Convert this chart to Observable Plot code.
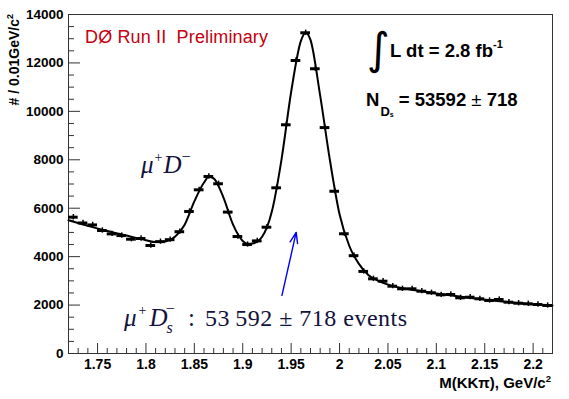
<!DOCTYPE html>
<html>
<head>
<meta charset="utf-8">
<script src="https://cdn.jsdelivr.net/npm/d3@7"></script>
<script src="https://cdn.jsdelivr.net/npm/@observablehq/plot@0.6"></script>
<style>
  html, body { margin: 0; padding: 0; background: #fff; }
  #chart svg { display: block; }
</style>
</head>
<body>
<div id="chart"></div>
<script>
// Bin centres (GeV/c^2), 0.01 GeV bins
const binCenters = [
  1.725, 1.735, 1.745, 1.755, 1.765, 1.775, 1.785, 1.795,
  1.805, 1.815, 1.825, 1.835, 1.845, 1.855, 1.865, 1.875, 1.885, 1.895,
  1.905, 1.915, 1.925, 1.935, 1.945, 1.955, 1.965, 1.975, 1.985, 1.995,
  2.005, 2.015, 2.025, 2.035, 2.045, 2.055, 2.065, 2.075, 2.085, 2.095,
  2.105, 2.115, 2.125, 2.135, 2.145, 2.155, 2.165, 2.175, 2.185, 2.195,
  2.205, 2.215
];
// Entries per bin
const counts = [
  5630, 5390, 5310, 5080, 4940, 4870, 4720, 4750,
  4460, 4620, 4700, 5030, 5865, 6760, 7310, 7010, 5840, 4830,
  4500, 4650, 5216, 6843, 9445, 12100, 13245, 11760, 9330, 6700,
  4945, 4040, 3390, 3085, 2986, 2780, 2672, 2672, 2573, 2507,
  2424, 2437, 2300, 2325, 2259, 2189, 2230, 2119, 2077, 2053,
  2024, 1982
];
const binHalfWidth = 0.005;
const errHalf = 110;

// Fit curve
const fitX = [1.72, 1.74, 1.76, 1.78, 1.80, 1.81, 1.82, 1.83, 1.84, 1.85, 1.86, 1.865, 1.87, 1.88, 1.89, 1.90, 1.905, 1.91, 1.92, 1.93, 1.94, 1.95, 1.96, 1.965, 1.97, 1.98, 1.99, 2.00, 2.01, 2.02, 2.03, 2.04, 2.06, 2.08, 2.10, 2.12, 2.14, 2.16, 2.18, 2.20, 2.22];
const fitY = [5500, 5270, 5060, 4870, 4680, 4600, 4630, 4820, 5320, 6280, 7060, 7300, 7230, 6450, 5320, 4650, 4530, 4540, 4820, 5850, 8000, 10800, 12900, 13250, 12950, 10650, 8000, 5750, 4450, 3700, 3230, 3000, 2740, 2600, 2480, 2370, 2270, 2180, 2100, 2030, 1980];

// Axis ticks
const xMajor = [1.75, 1.8, 1.85, 1.9, 1.95, 2, 2.05, 2.1, 2.15, 2.2];
const xMinor = [1.72, 1.73, 1.74, 1.76, 1.77, 1.78, 1.79, 1.81, 1.82, 1.83, 1.84, 1.86, 1.87, 1.88, 1.89, 1.91, 1.92, 1.93, 1.94, 1.96, 1.97, 1.98, 1.99, 2.01, 2.02, 2.03, 2.04, 2.06, 2.07, 2.08, 2.09, 2.11, 2.12, 2.13, 2.14, 2.16, 2.17, 2.18, 2.19, 2.21, 2.22];
const yMajor = [0, 2000, 4000, 6000, 8000, 10000, 12000, 14000];
const yMinor = [500, 1000, 1500, 2500, 3000, 3500, 4500, 5000, 5500, 6500, 7000, 7500, 8500, 9000, 9500, 10500, 11000, 11500, 12500, 13000, 13500];

// Annotation arrow (data coordinates)
const arrowFrom = [1.9405, 2400];
const arrowTo = [1.9552, 5000];

const xMin = 1.72, xMax = 2.22, yMin = 0, yMax = 14000;

const points = binCenters.map((x, i) => ({x, y: counts[i]}));
const fit = fitX.map((x, i) => ({x, y: fitY[i]}));

const W = 569, H = 399, mL = 68, mT = 14, mR = 17, mB = 46;
const innerW = W - mL - mR, innerH = H - mT - mB;

const sans = "'Liberation Sans', Arial, Helvetica, sans-serif";
const serif = "'Liberation Serif', 'Times New Roman', serif";

const svg = Plot.plot({
  width: W,
  height: H,
  marginLeft: mL,
  marginTop: mT,
  marginRight: mR,
  marginBottom: mB,
  style: {fontFamily: sans, background: "#fff", color: "#000", fontWeight: "bold"},
  x: {domain: [xMin, xMax], ticks: xMajor, tickSize: 0, tickPadding: 6, tickFormat: d => String(d), label: null},
  y: {domain: [yMin, yMax], ticks: yMajor, tickSize: 0, tickPadding: 5, tickFormat: d => String(d), label: null},
  marks: [
    Plot.frame({stroke: "#333", strokeWidth: 1}),
    // inward tick marks
    Plot.ruleX(xMajor, {x: d => d, insetTop: innerH - 10, stroke: "#333", strokeWidth: 1}),
    Plot.ruleX(xMinor, {x: d => d, insetTop: innerH - 5, stroke: "#333", strokeWidth: 1}),
    Plot.ruleY(yMajor, {y: d => d, insetRight: innerW - 12, stroke: "#333", strokeWidth: 1}),
    Plot.ruleY(yMinor, {y: d => d, insetRight: innerW - 6, stroke: "#333", strokeWidth: 1}),
    Plot.line(fit, {x: "x", y: "y", curve: "monotone-x", stroke: "#000", strokeWidth: 2}),
    Plot.ruleY(points, {y: "y", x1: d => d.x - binHalfWidth, x2: d => d.x + binHalfWidth, stroke: "#000", strokeWidth: 3}),
    Plot.ruleX(points, {x: "x", y1: d => d.y - errHalf, y2: d => d.y + errHalf, stroke: "#000", strokeWidth: 1.5}),
    Plot.arrow([{x1: arrowFrom[0], y1: arrowFrom[1], x2: arrowTo[0], y2: arrowTo[1]}],
      {x1: "x1", y1: "y1", x2: "x2", y2: "y2", stroke: "#0000ff", strokeWidth: 1.4, headLength: 12, headAngle: 40})
  ]
});

document.getElementById("chart").appendChild(svg);

// axis tick label fonts
d3.select(svg).selectAll("text").each(function() {
  const grp = this.closest("g[aria-label]");
  const lab = grp ? grp.getAttribute("aria-label") : "";
  const isY = lab.indexOf("y") === 0;
  d3.select(this).attr("font-size", isY ? 13.5 : 14).attr("font-weight", "bold").attr("font-family", sans);
});

const g = d3.select(svg).append("g")
  .attr("class", "annotations")
  .attr("font-weight", "normal")
  .attr("text-anchor", "start");

// Y axis title
const yt = g.append("text")
  .attr("transform", "translate(19,14) rotate(-90)")
  .attr("text-anchor", "end")
  .attr("font-family", sans).attr("font-weight", "bold").attr("font-size", 14)
  .attr("fill", "#000");
yt.append("tspan").text("# / 0.01GeV/c");
yt.append("tspan").attr("font-size", 9).attr("dy", -6).text("2");

// X axis title
const xt = g.append("text")
  .attr("x", 551).attr("y", 388)
  .attr("text-anchor", "end")
  .attr("font-family", sans).attr("font-weight", "bold").attr("font-size", 15)
  .attr("fill", "#000");
xt.append("tspan").text("M(KK\u03C0), GeV/c");
xt.append("tspan").attr("font-size", 9.5).attr("dy", -6).text("2");

// DØ Run II Preliminary
g.append("text")
  .attr("x", 85).attr("y", 43)
  .attr("font-family", sans).attr("font-size", 18).attr("font-weight", "normal")
  .attr("fill", "#c40010")
  .attr("textLength", 183).attr("lengthAdjust", "spacing")
  .text("D\u00D8 Run II  Preliminary");

// ∫ L dt = 2.8 fb^-1
g.append("text")
  .attr("x", 367).attr("y", 64)
  .attr("font-family", "'DejaVu Sans', sans-serif").attr("font-size", 44).attr("font-weight", "normal")
  .attr("fill", "#000")
  .text("\u222B");
const lum = g.append("text")
  .attr("x", 390).attr("y", 57)
  .attr("font-family", sans).attr("font-weight", "bold").attr("font-size", 18.5)
  .attr("fill", "#000");
lum.append("tspan").text("L dt = 2.8 fb");
lum.append("tspan").attr("font-size", 11).attr("dy", -9).text("-1");

// N_Ds = 53592 ± 718
const nds = g.append("text")
  .attr("x", 366).attr("y", 106)
  .attr("font-family", sans).attr("font-weight", "bold").attr("font-size", 18.5)
  .attr("fill", "#000");
nds.append("tspan").text("N");
nds.append("tspan").attr("font-size", 13).attr("dx", 1).attr("dy", 10).text("D");
nds.append("tspan").attr("font-size", 7).attr("dy", 1).text("s");
nds.append("tspan").attr("dy", -11).text(" = 53592 ");
nds.append("tspan").attr("font-weight", "normal").text("\u00B1");
nds.append("tspan").text(" 718");

// μ+ D−
const mud = g.append("text")
  .attr("x", 141).attr("y", 173)
  .attr("font-family", serif).attr("font-size", 25).attr("font-weight", "normal")
  .attr("fill", "#12123c");
mud.append("tspan").attr("font-style", "italic").text("\u03BC");
mud.append("tspan").attr("font-size", 14).attr("dx", 1).attr("dy", -11).text("+");
mud.append("tspan").attr("font-style", "italic").attr("dx", 1).attr("dy", 11).text("D");
mud.append("tspan").attr("font-size", 16).attr("dy", -11).text("\u2212");

// μ+ Ds− : 53 592 ± 718 events
const ev = g.append("text")
  .attr("x", 124).attr("y", 326)
  .attr("font-family", serif).attr("font-size", 25).attr("font-weight", "normal")
  .attr("fill", "#12123c");
ev.append("tspan").attr("font-style", "italic").text("\u03BC");
ev.append("tspan").attr("font-size", 14).attr("dx", 2).attr("dy", -11).text("+");
ev.append("tspan").attr("font-style", "italic").attr("dx", 3).attr("dy", 11).text("D");
ev.append("tspan").attr("font-style", "italic").attr("font-size", 16).attr("dx", -1).attr("dy", 7).text("s");
ev.append("tspan").attr("font-size", 16).attr("dx", -7).attr("dy", -19).text("\u2212");

g.append("text")
  .attr("x", 188).attr("y", 326)
  .attr("font-family", serif).attr("font-size", 25).attr("fill", "#12123c")
  .text(":");
g.append("text")
  .attr("x", 205).attr("y", 326)
  .attr("font-family", serif).attr("font-size", 24).attr("fill", "#12123c")
  .attr("textLength", 202).attr("lengthAdjust", "spacing")
  .text("53\u2009592 \u00B1 718 events");
</script>
</body>
</html>
